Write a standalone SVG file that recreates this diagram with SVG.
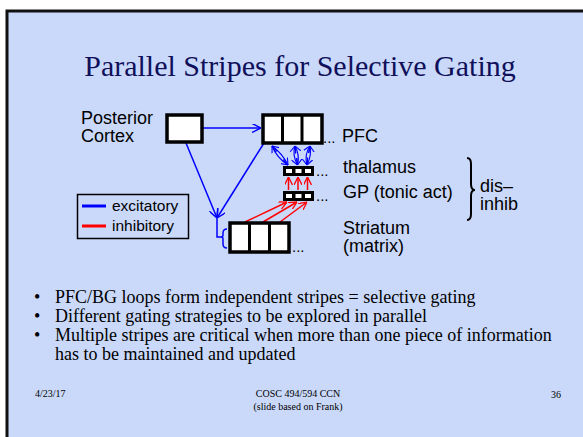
<svg xmlns="http://www.w3.org/2000/svg" width="583" height="437" viewBox="0 0 583 437">
<style>
.sans{font-family:"Liberation Sans",Arial,sans-serif;fill:#000}
.serif{font-family:"Liberation Serif","Times New Roman",serif;fill:#000}
.lbl{font-size:18px}
.box{fill:#fff;stroke:#000;stroke-width:3.5}
.div{stroke:#000;stroke-width:3}
.b{fill:none;stroke:#0000ff;stroke-width:1.5}
.bt{fill:none;stroke:#0000ff;stroke-width:1.2}
.r{fill:none;stroke:#ff0000;stroke-width:1.5}
.bul{font-size:18px}
.foot{font-size:10px}
</style>
<defs>
<marker id="ab" viewBox="0 0 10 10" refX="10" refY="5" markerWidth="9" markerHeight="9" markerUnits="userSpaceOnUse" orient="auto-start-reverse">
<path d="M0,0 L10,5 L0,10" fill="none" stroke="#0000ff" stroke-width="1.6"/>
</marker>
<marker id="abs" viewBox="0 0 10 10" refX="10" refY="5" markerWidth="7" markerHeight="7" markerUnits="userSpaceOnUse" orient="auto-start-reverse">
<path d="M0,1 L10,5 L0,9" fill="none" stroke="#0000ff" stroke-width="1.6"/>
</marker>
<marker id="ar" viewBox="0 0 10 10" refX="10" refY="5" markerWidth="8" markerHeight="8" markerUnits="userSpaceOnUse" orient="auto">
<path d="M0,0 L10,5 L0,10" fill="none" stroke="#ff0000" stroke-width="1.6"/>
</marker>
</defs>
<rect x="0" y="0" width="583" height="437" fill="#ffffff"/>
<rect x="7" y="11" width="576" height="426" fill="#cad9fa"/>
<path d="M7,437 V11 H583" fill="none" stroke="#111" stroke-width="3"/>

<text class="serif" x="300" y="76" font-size="30" text-anchor="middle" style="fill:#10105a">Parallel Stripes for Selective Gating</text>

<g id="connectors">
<line class="b" x1="203" y1="128" x2="261" y2="128" marker-end="url(#ab)"/>
<line class="b" x1="186" y1="143" x2="217" y2="218" marker-end="url(#ab)"/>
<line class="b" x1="264" y1="143" x2="217" y2="218" marker-end="url(#ab)"/>
<path class="b" d="M217,218 V237 H221"/>
<path class="b" d="M227,229 Q223,229 223,233 L223,235 Q223,237 221,237 Q223,237 223,239 L223,244 Q223,248 227,248"/>
<path class="bt" d="M272,146 Q282,153 288,165" marker-start="url(#abs)" marker-end="url(#abs)"/>
<path class="bt" d="M272,146 Q277,158 288,165" marker-start="url(#abs)" marker-end="url(#abs)"/>
<path class="bt" d="M295,146 Q300,155 297.5,165" marker-start="url(#abs)" marker-end="url(#abs)"/>
<path class="bt" d="M295,146 Q292,155 297.5,165" marker-start="url(#abs)" marker-end="url(#abs)"/>
<path class="bt" d="M310,146 Q312,155 307,165" marker-start="url(#abs)" marker-end="url(#abs)"/>
<path class="bt" d="M310,146 Q304,155 307,165" marker-start="url(#abs)" marker-end="url(#abs)"/>
<line class="r" x1="288.5" y1="190" x2="288.5" y2="177" marker-end="url(#ar)"/>
<line class="r" x1="298" y1="190" x2="298" y2="177" marker-end="url(#ar)"/>
<line class="r" x1="307.5" y1="190" x2="307.5" y2="177" marker-end="url(#ar)"/>
<line class="r" x1="245" y1="222" x2="287" y2="202" marker-end="url(#ar)"/>
<line class="r" x1="263" y1="222" x2="297" y2="202" marker-end="url(#ar)"/>
<line class="r" x1="280" y1="222" x2="307" y2="202" marker-end="url(#ar)"/>
</g>

<g id="posterior">
<rect class="box" x="167" y="115" width="35" height="27"/>
<text class="sans lbl" x="81" y="124">Posterior</text>
<text class="sans lbl" x="81" y="142">Cortex</text>
</g>

<g id="pfc">
<rect class="box" x="263" y="115" width="59" height="28"/>
<line class="div" x1="282.5" y1="115" x2="282.5" y2="143"/>
<line class="div" x1="302" y1="115" x2="302" y2="143"/>
<text class="sans" x="323" y="143" font-size="15">...</text>
<text class="sans lbl" x="342" y="142">PFC</text>
</g>

<g id="thalamus">
<rect x="283" y="166" width="31" height="10" fill="#000"/>
<rect x="286" y="169" width="6" height="4" fill="#fff"/>
<rect x="295.5" y="169" width="6" height="4" fill="#fff"/>
<rect x="305" y="169" width="6" height="4" fill="#fff"/>
<text class="sans" x="316" y="176" font-size="15">...</text>
<text class="sans lbl" x="343" y="173">thalamus</text>
</g>

<g id="gp">
<rect x="283" y="191" width="31" height="10" fill="#000"/>
<rect x="286" y="194" width="6" height="4" fill="#fff"/>
<rect x="295.5" y="194" width="6" height="4" fill="#fff"/>
<rect x="305" y="194" width="6" height="4" fill="#fff"/>
<text class="sans" x="316" y="201" font-size="15">...</text>
<text class="sans lbl" x="343" y="198">GP (tonic act)</text>
</g>

<g id="striatum">
<rect class="box" x="230" y="223" width="59" height="29"/>
<line class="div" x1="249.5" y1="223" x2="249.5" y2="252"/>
<line class="div" x1="269.5" y1="223" x2="269.5" y2="252"/>
<text class="sans" x="292" y="252" font-size="15">...</text>
<text class="sans lbl" x="343" y="234">Striatum</text>
<text class="sans lbl" x="343" y="252">(matrix)</text>
</g>

<g id="disinhib">
<path d="M467,158 Q471,158 471,164 L471,184 Q471,190 475,190 Q471,190 471,196 L471,214 Q471,220 467,220" fill="none" stroke="#000" stroke-width="2"/>
<text class="sans lbl" x="480" y="192">dis–</text>
<text class="sans lbl" x="480" y="210">inhib</text>
</g>

<g id="legend">
<rect x="77.5" y="194.5" width="111" height="44" fill="none" stroke="#000" stroke-width="1.5"/>
<line x1="82" y1="206" x2="106" y2="206" stroke="#0000ff" stroke-width="3"/>
<line x1="82" y1="226" x2="106" y2="226" stroke="#ff0000" stroke-width="3"/>
<text class="sans" x="112" y="211" font-size="15.5">excitatory</text>
<text class="sans" x="112" y="231" font-size="15.5">inhibitory</text>
</g>

<g id="bullets">
<text class="serif bul" x="34" y="303">•</text>
<text class="serif bul" x="55" y="303">PFC/BG loops form independent stripes = selective gating</text>
<text class="serif bul" x="34" y="322">•</text>
<text class="serif bul" x="55" y="322">Different gating strategies to be explored in parallel</text>
<text class="serif bul" x="34" y="341">•</text>
<text class="serif bul" x="55" y="341">Multiple stripes are critical when more than one piece of information</text>
<text class="serif bul" x="55" y="360">has to be maintained and updated</text>
</g>

<g id="footer">
<text class="serif foot" x="35" y="397">4/23/17</text>
<text class="serif foot" x="298" y="397" text-anchor="middle">COSC 494/594 CCN</text>
<text class="serif foot" x="298" y="410" text-anchor="middle">(slide based on Frank)</text>
<text class="serif foot" x="551" y="398">36</text>
</g>
</svg>
